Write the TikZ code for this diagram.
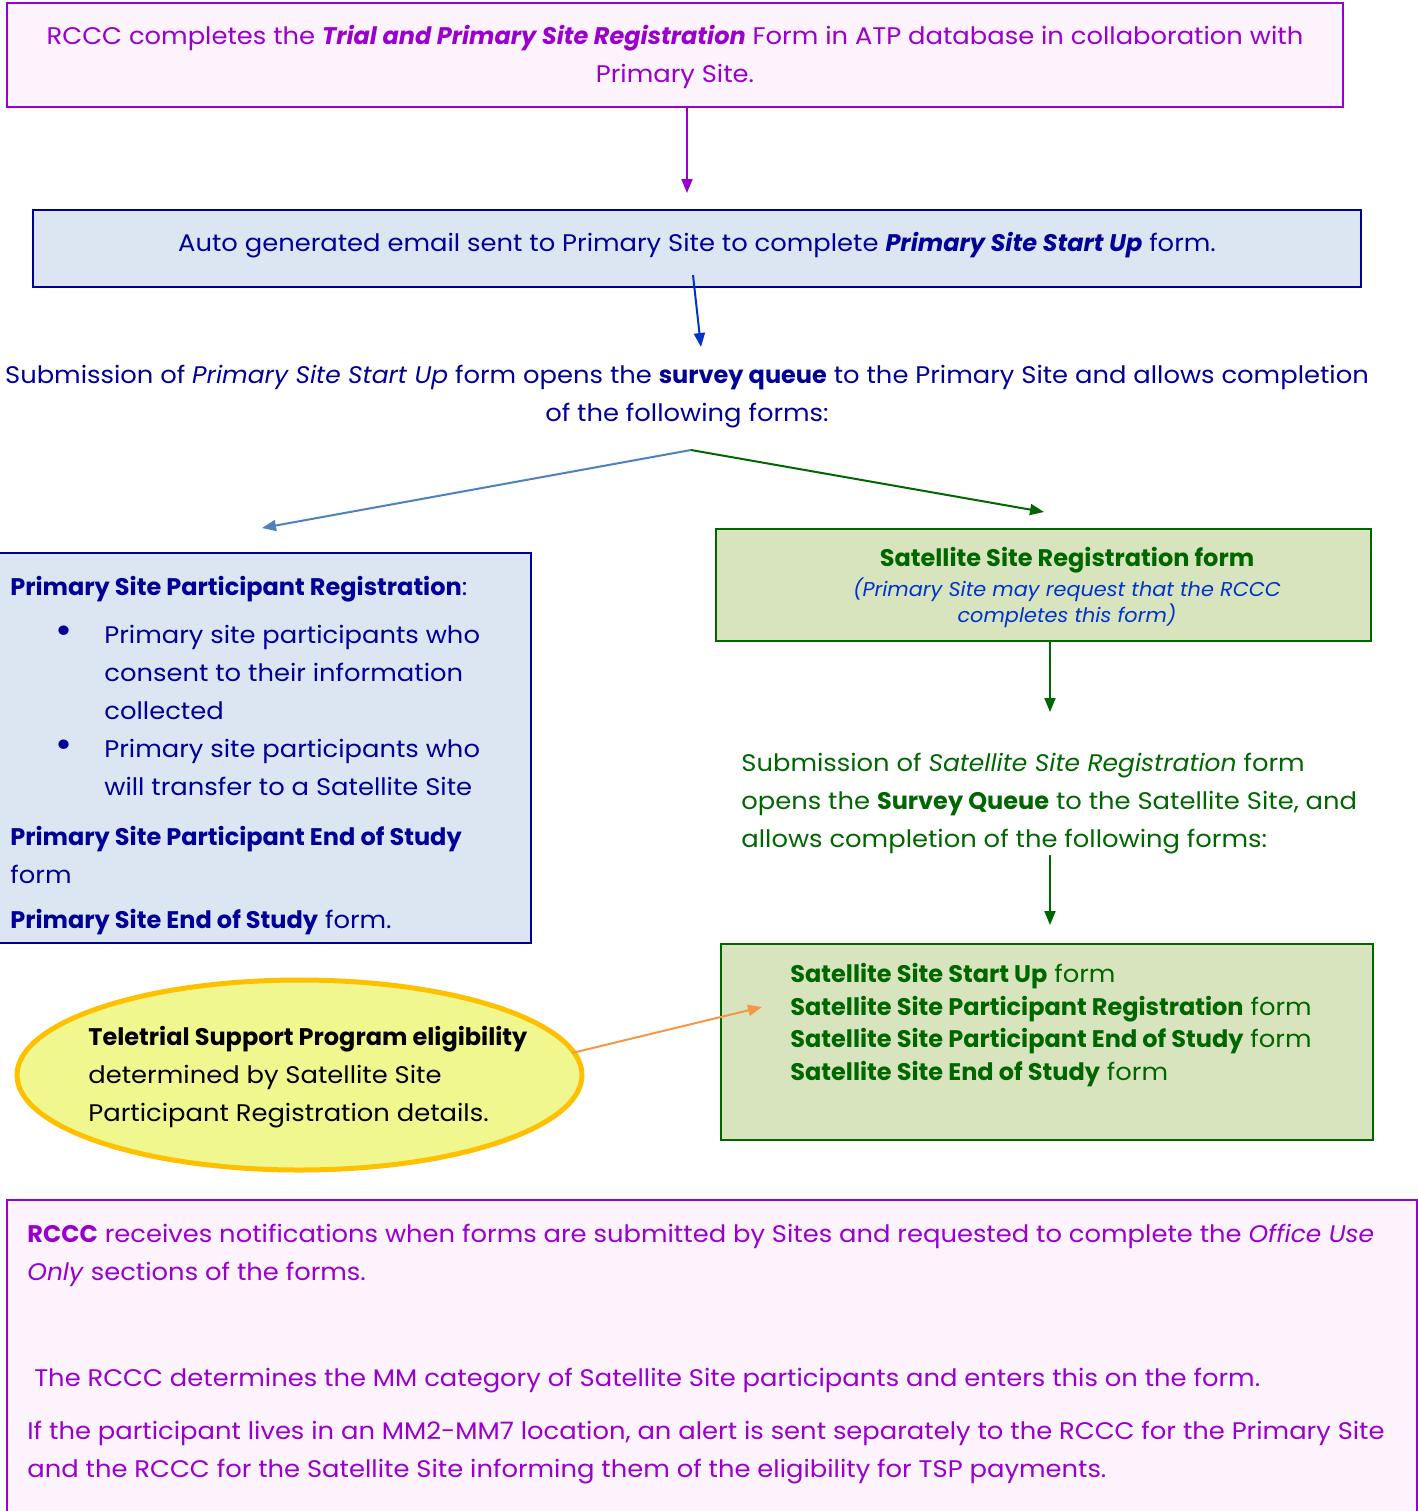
\documentclass[tikz,border=0pt]{standalone}
\usepackage{fontspec}
\setmainfont{Poppins}[UprightFeatures={FakeStretch=1.075},ItalicFeatures={FakeStretch=1.04}]
\usetikzlibrary{shapes.geometric,arrows.meta}

\definecolor{rcccPurple}{RGB}{153,0,204}
\definecolor{rcccPink}{RGB}{253,243,253}
\definecolor{siteNavy}{RGB}{0,0,153}
\definecolor{siteFill}{RGB}{220,230,242}
\definecolor{linkBlue}{RGB}{0,51,204}
\definecolor{steelBlue}{RGB}{79,129,189}
\definecolor{satGreen}{RGB}{0,102,0}
\definecolor{satFill}{RGB}{215,228,189}
\definecolor{tspFill}{RGB}{240,247,143}
\definecolor{tspBorder}{RGB}{255,192,0}
\definecolor{tspOrange}{RGB}{247,150,70}

\newcommand{\satNote}[1]{{\fontsize{10}{13}\selectfont\itshape\color{linkBlue}#1}}
\newcommand{\psBullet}{\hspace*{22.5pt}\makebox[24.5pt][l]{\scalebox{1.6}{\textbullet}}}

\begin{document}
\begin{tikzpicture}
          [x=0.5pt,y=-0.5pt,
          font=\fontsize{12}{19}\selectfont,
          box/.style={shape=rectangle,draw,line width=1pt,inner sep=0pt},
          txt/.style={inner sep=0pt},
          arc/.style={-{Triangle[length=7pt,width=5.5pt]},line width=1pt}]

            \useasboundingbox (0,0) rectangle (1418,1511);

            % boxes
            \node (rccc) [box,draw=rcccPurple,fill=rcccPink,minimum width=668pt,minimum height=52pt] at (675,55) {};
            \node (email) [box,draw=siteNavy,fill=siteFill,minimum width=664pt,minimum height=38.5pt] at (697,248.5) {};
            \node (psReg) [box,draw=siteNavy,fill=siteFill,minimum width=266pt,minimum height=195pt] at (265,748) {};
            \node (satReg) [box,draw=satGreen,fill=satFill,minimum width=327.5pt,minimum height=56pt] at (1043.5,585) {};
            \node (satForms) [box,draw=satGreen,fill=satFill,minimum width=326pt,minimum height=98pt] at (1047,1042) {};
            \node (tsp) [shape=ellipse,draw=tspBorder,fill=tspFill,line width=2.5pt,minimum width=282.5pt,minimum height=95pt] at (299.5,1075) {};
            \node (rcccNote) [box,draw=rcccPurple,fill=rcccPink,minimum width=705pt,minimum height=160pt] at (712,1360) {};

            % texts
            \node (rcccText) [txt,text=rcccPurple,align=center] at (675,57) {RCCC completes the \textbf{\textit{Trial and Primary Site Registration}} Form in ATP database in collaboration with\\Primary Site.};
            \node (emailText) [txt,text=siteNavy] at (697,245) {Auto generated email sent to Primary Site to complete \textbf{\textit{Primary Site Start Up}} form.};
            \node (queueText) [txt,text=siteNavy,align=center] at (687,397) {Submission of \textit{Primary Site Start Up} form opens the \textbf{survey queue} to the Primary Site and allows completion\\of the following forms:};
            \node (psText) [txt,text=siteNavy,align=left,anchor=west] at (10,756) {\textbf{Primary Site Participant Registration}:\\[5pt]
              \psBullet Primary site participants who\\
              \hspace*{47pt}consent to their information\\
              \hspace*{47pt}collected\\
              \psBullet Primary site participants who\\
              \hspace*{47pt}will transfer to a Satellite Site\\[6pt]
              \textbf{Primary Site Participant End of Study}\\
              form\\[3.5pt]
              \textbf{Primary Site End of Study} form.};
            \node (satRegText) [txt,align=center] at (1067,587) {\textcolor{satGreen}{\textbf{Satellite Site Registration form}}\\[-4pt]
              \satNote{(Primary Site may request that the RCCC}\\[-6pt]
              \satNote{completes this form)}};
            \node (satQueueText) [txt,text=satGreen,align=left,anchor=west] at (741,803.5) {Submission of \textit{Satellite Site Registration} form\\
              opens the \textbf{Survey Queue} to the Satellite Site, and\\
              allows completion of the following forms:};
            \node (satFormsText) [txt,text=satGreen,align=left,anchor=west,font=\fontsize{12}{16.3}\selectfont] at (790,1025) {\textbf{Satellite Site Start Up} form\\
              \textbf{Satellite Site Participant Registration} form\\
              \textbf{Satellite Site Participant End of Study} form\\
              \textbf{Satellite Site End of Study} form};
            \node (tspText) [txt,align=left,anchor=west] at (88,1077.5) {\textbf{Teletrial Support Program eligibility}\\
              determined by Satellite Site\\
              Participant Registration details.};
            \node (rcccNoteText) [txt,text=rcccPurple,align=left,anchor=west] at (27,1354.5) {\textbf{RCCC} receives notifications when forms are submitted by Sites and requested to complete the \textit{Office Use}\\
              \textit{Only} sections of the forms.\\[34pt]
              \ The RCCC determines the MM category of Satellite Site participants and enters this on the form.\\[7.5pt]
              If the participant lives in an MM2-MM7 location, an alert is sent separately to the RCCC for the Primary Site\\
              and the RCCC for the Satellite Site informing them of the eligibility for TSP payments.};

            % free ends of the connectors
            \coordinate (emailTip) at (687,193);
            \coordinate (queueStart) at (693,275);
            \coordinate (queueTip) at (701,347);
            \coordinate (split) at (691,450);
            \coordinate (psTip) at (262,528);
            \coordinate (satTip) at (1044,512);
            \coordinate (satQueueTip) at (1050,712);
            \coordinate (satFormsStart) at (1050,855);
            \coordinate (satFormsTip) at (1050,925);
            \coordinate (tspStart) at (572,1053);
            \coordinate (tspTip) at (762,1007);

            \draw [arc,rcccPurple] (rccc.south -| emailTip) -- (emailTip);
            \draw [arc,linkBlue] (queueStart) -- (queueTip);
            \draw [arc,steelBlue] (split) -- (psTip);
            \draw [arc,satGreen] (split) -- (satTip);
            \draw [arc,satGreen] (satReg.south -| satQueueTip) -- (satQueueTip);
            \draw [arc,satGreen] (satFormsStart) -- (satFormsTip);
            \draw [arc,tspOrange] (tspStart) -- (tspTip);

        \end{tikzpicture}
\end{document}
